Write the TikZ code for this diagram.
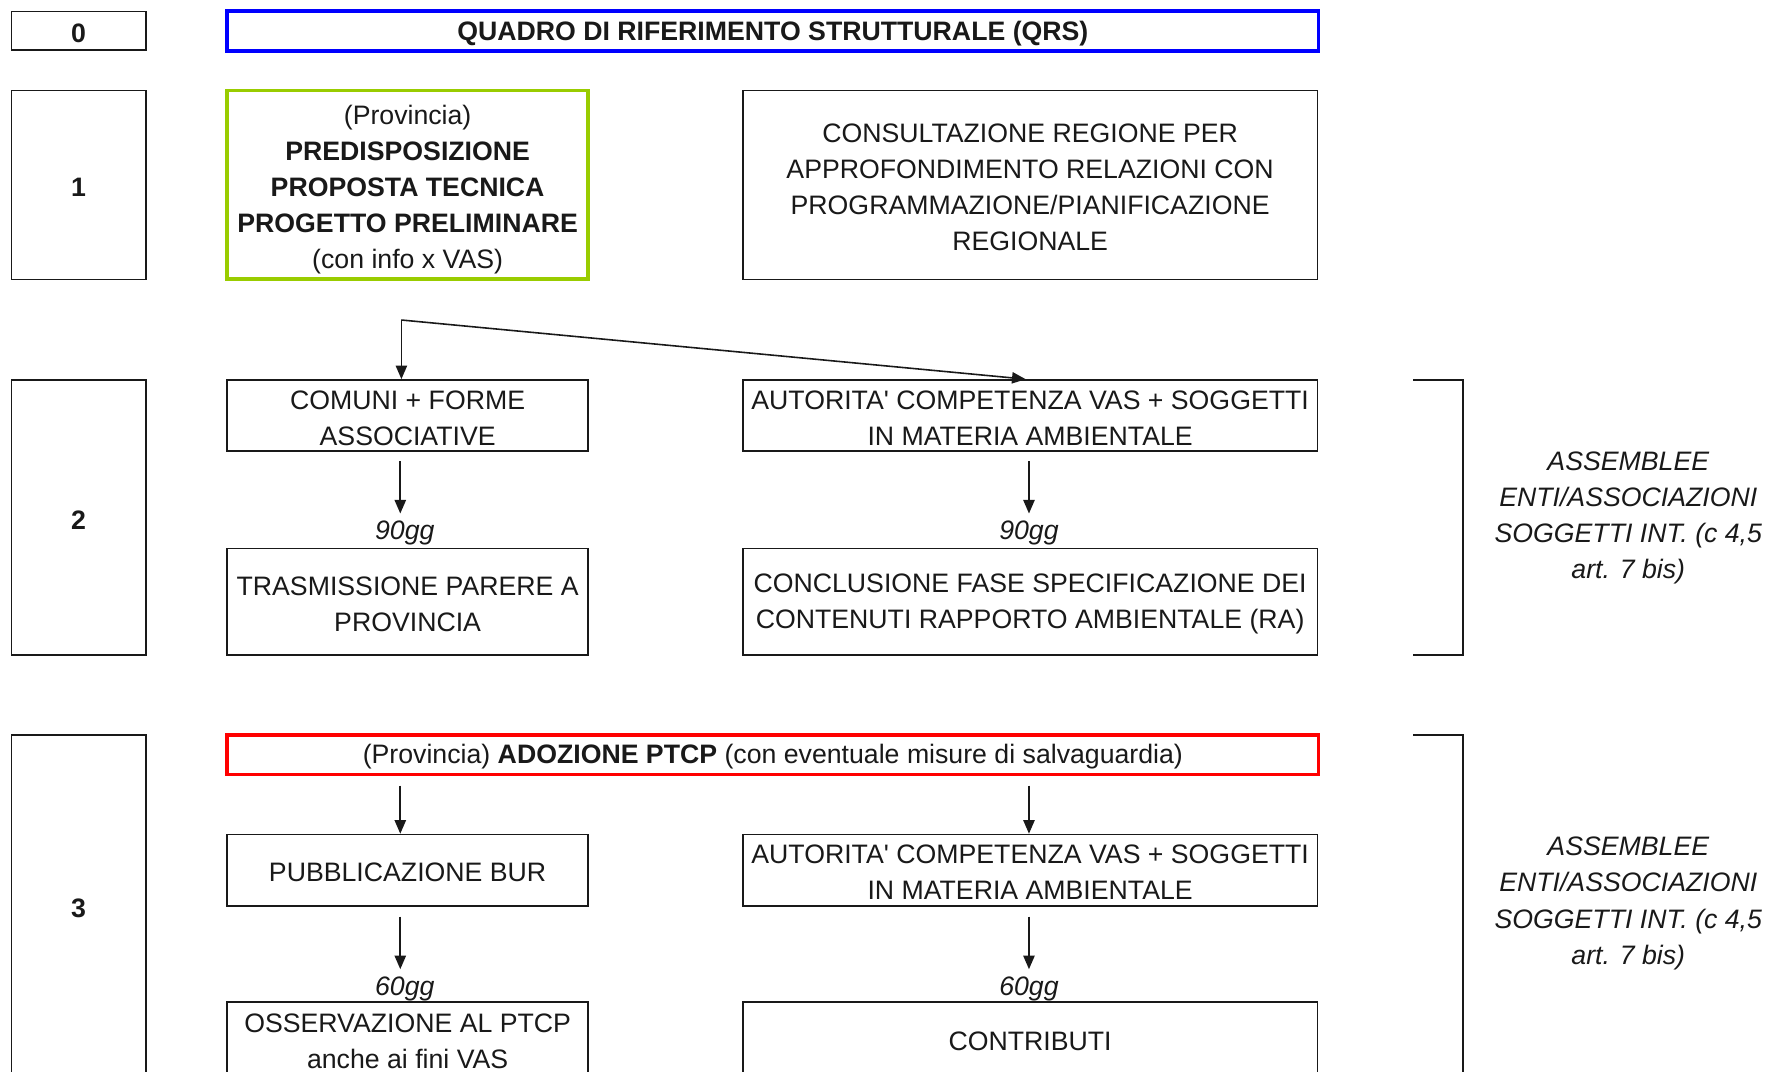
\documentclass[tikz,border=0pt]{standalone}
\usepackage{fontspec}
\setmainfont{Liberation Sans}
\usetikzlibrary{arrows.meta}
\definecolor{qblue}{RGB}{0,0,255}
\definecolor{qgreen}{RGB}{153,204,0}
\definecolor{qred}{RGB}{255,0,0}
\definecolor{ink}{RGB}{25,25,25}
\newcommand\onestrut{\rule{0pt}{10.4pt}}
\newcommand\multistrut{\rule{0pt}{10.4pt}}
\newcommand\parenstrut{\rule{0pt}{12.8pt}}
\begin{document}
\begin{tikzpicture}[x=0.5pt,y=-0.5pt,
  every node/.style={font=\fontsize{11.8}{16}\selectfont, text=ink},
  box/.style={draw=ink, line width=0.7pt, inner sep=0pt, align=center, anchor=center},
  numbox/.style={box, font=\fontsize{11.8}{16}\selectfont\bfseries},
  bluebox/.style={box, draw=qblue, line width=1.7pt},
  greenbox/.style={box, draw=qgreen, line width=1.7pt},
  redbox/.style={box, draw=qred, line width=1.7pt},
  narrowbox/.style={minimum width=159.5pt},
  widebox/.style={minimum width=254pt},
  fullbox/.style={minimum width=482.5pt},
  numw/.style={minimum width=59.5pt},
  daylbl/.style={font=\fontsize{11.8}{16}\selectfont\itshape, inner xsep=0pt, inner ysep=3pt, anchor=base},
  sidetext/.style={font=\fontsize{11.8}{16}\selectfont\itshape, align=center, inner sep=0pt},
  arr/.style={draw=ink, line width=0.7pt, -{Triangle[length=6pt,width=5pt]}},
  brk/.style={draw=ink, line width=0.7pt},
]
\useasboundingbox (0,0) rectangle (1568,948);
\clip (0,0) rectangle (1568,948);
\fill[white] (0,0) rectangle (1568,948);

% row 0
\node[numbox, numw, minimum height=17pt] (n0) at (69.5,27) {\onestrut 0};
\node[bluebox, fullbox, minimum height=17.5pt, font=\fontsize{11.8}{16}\selectfont\bfseries] (qrs) at (683.5,27.5) {\onestrut QUADRO DI RIFERIMENTO STRUTTURALE (QRS)};

% row 1
\node[numbox, numw, minimum height=83.5pt] (n1) at (69.5,163.5) {\onestrut 1};
\node[greenbox, narrowbox, minimum height=83.5pt] (prop) at (360.5,163.5) {\parenstrut(Provincia)\\\textbf{PREDISPOSIZIONE}\\\textbf{PROPOSTA TECNICA}\\\textbf{PROGETTO PRELIMINARE}\\(con info x VAS)};
\node[box, widebox, minimum height=83.5pt] (cons) at (911,163.5) {\multistrut CONSULTAZIONE REGIONE PER\\APPROFONDIMENTO RELAZIONI CON\\PROGRAMMAZIONE/PIANIFICAZIONE\\REGIONALE};

% row 2
\node[numbox, numw, minimum height=121.5pt] (n2) at (69.5,457.5) {\onestrut 2};
\node[box, narrowbox, minimum height=31.5pt] (comuni) at (360.5,367.5) {\multistrut COMUNI + FORME\\ASSOCIATIVE};
\node[box, widebox, minimum height=31.5pt] (aut1) at (911,367.5) {\multistrut AUTORITA\textquotesingle{} COMPETENZA VAS + SOGGETTI\\IN MATERIA AMBIENTALE};
\node[daylbl] (g90a) at (358,477) {90gg};
\node[daylbl] (g90b) at (910,477) {90gg};
\node[box, narrowbox, minimum height=47pt] (trasm) at (360.5,532) {\multistrut TRASMISSIONE PARERE A\\PROVINCIA};
\node[box, widebox, minimum height=47pt] (concl) at (911,532) {\multistrut CONCLUSIONE FASE SPECIFICAZIONE DEI\\CONTENUTI RAPPORTO AMBIENTALE (RA)};
\draw[brk] (1250,336) -- (1294,336) -- (1294,579) -- (1250,579);
\node[sidetext] (ass2) at (1440,458) {ASSEMBLEE\\ENTI/ASSOCIAZIONI\\SOGGETTI INT. (c 4,5\\art. 7 bis)};

% row 3
\node[numbox, numw, minimum height=151pt] (n3) at (69.5,801) {\onestrut 3};
\node[redbox, fullbox, minimum height=17.5pt] (ptcp) at (683.5,667.5) {\onestrut(Provincia) \textbf{ADOZIONE PTCP} (con eventuale misure di salvaguardia)};
\node[box, narrowbox, minimum height=31.5pt] (pubb) at (360.5,769.5) {\onestrut PUBBLICAZIONE BUR};
\node[box, widebox, minimum height=31.5pt] (aut2) at (911,769.5) {\multistrut AUTORITA\textquotesingle{} COMPETENZA VAS + SOGGETTI\\IN MATERIA AMBIENTALE};
\node[daylbl] (g60a) at (358,880) {60gg};
\node[daylbl] (g60b) at (910,880) {60gg};
\node[box, narrowbox, minimum height=33pt] (oss) at (360.5,919) {\multistrut OSSERVAZIONE AL PTCP\\anche ai fini VAS};
\node[box, widebox, minimum height=33pt] (contr) at (911,919) {\onestrut CONTRIBUTI};
\draw[brk] (1250,650) -- (1294,650) -- (1294,970);
\node[sidetext] (ass3) at (1440,799) {ASSEMBLEE\\ENTI/ASSOCIAZIONI\\SOGGETTI INT. (c 4,5\\art. 7 bis)};

% connectors
\coordinate (xl) at (354,0);
\coordinate (xr) at (910,0);
\coordinate (split) at (355,283);
\draw[arr] (split) -- (comuni.north -| split);
\draw[arr] (split) -- ([xshift=-2pt]aut1.north);
\draw[arr] ([yshift=-4pt]comuni.south -| xl) -- (g90a.north -| xl);
\draw[arr] ([yshift=-4pt]aut1.south -| xr) -- (g90b.north -| xr);
\draw[arr] ([yshift=-4pt]ptcp.south -| xl) -- (pubb.north -| xl);
\draw[arr] ([yshift=-4pt]ptcp.south -| xr) -- (aut2.north -| xr);
\draw[arr] ([yshift=-4.5pt]pubb.south -| xl) -- (g60a.north -| xl);
\draw[arr] ([yshift=-4.5pt]aut2.south -| xr) -- (g60b.north -| xr);
\end{tikzpicture}
\end{document}
